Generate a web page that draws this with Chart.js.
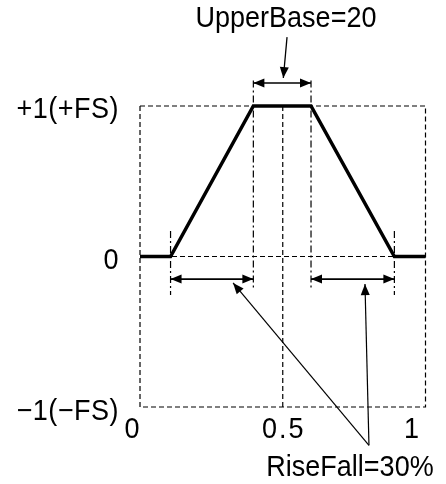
<!DOCTYPE html>
<html>
<head>
<meta charset="utf-8">
<script src="https://cdn.jsdelivr.net/npm/chart.js@4"></script>
<style>
    body { margin: 0; background: #fff; }
    canvas { display: block; }
</style>
</head>
<body>
<canvas id="waveChart" width="446" height="484"></canvas>
<script>
// Trapezoid waveform (x = fraction of period, y = full scale)
const waveX = [0, 0.107, 0.397, 0.599, 0.891, 1];
const waveY = [0, 0, 1, 1, 0, 0];

// Dashed frame, zero line and centre line
const frameX = [0, 1, 1, 0, 0];
const frameY = [1, 1, -1, -1, 1];
const zeroX = [0, 1];
const zeroY = [0, 0];
const centerX = [0.5, 0.5];
const centerY = [1, -1];

// Dash-dot guides at the corners of the trapezoid
const guideX = [0.107, 0.397, 0.599, 0.891];
const guideTop = [0.17, 1.17, 1.17, 0.17];
const guideBottom = [-0.255, -0.22, -0.22, -0.255];

// Double-headed span arrows
const spanFrom = [0.397, 0.107, 0.599];
const spanTo = [0.599, 0.397, 0.891];
const spanY = [1.153, -0.15, -0.15];

// Callout lines: [start, tip]
const upperCalloutX = [0.515, 0.502];
const upperCalloutY = [1.458, 1.186];
const riseCalloutX = [[0.802, 0.326], [0.802, 0.788]];
const riseCalloutY = [[-1.255, -0.176], [-1.255, -0.183]];

// Tick labels
const yTickValues = [1, 0, -1];
const yTickLabels = ['+1(+FS)', '0', '\u22121(\u2212FS)'];
const xTickValues = [0, 0.5, 1];
const xTickLabels = ['0', '0.5', '1'];

// Callout texts
const upperText = 'UpperBase=20';
const riseText = 'RiseFall=30%';

const pts = (xs, ys) => xs.map((v, i) => ({ x: v, y: ys[i] }));

const datasets = [];
datasets.push({ data: pts(waveX, waveY), borderColor: '#000', borderWidth: 3.5, borderJoinStyle: 'miter' });
datasets.push({ data: pts(frameX, frameY), borderColor: '#000', borderWidth: 1.2, borderDash: [5, 3] });
datasets.push({ data: pts(zeroX, zeroY), borderColor: '#000', borderWidth: 1.2, borderDash: [5, 3] });
datasets.push({ data: pts(centerX, centerY), borderColor: '#000', borderWidth: 1.2, borderDash: [5, 3] });
guideX.forEach((gx, i) => {
    datasets.push({ data: pts([gx, gx], [guideTop[i], guideBottom[i]]), borderColor: '#000', borderWidth: 1.2, borderDash: [7, 3, 2, 3] });
});
spanFrom.forEach((sx, i) => {
    datasets.push({ data: pts([sx, spanTo[i]], [spanY[i], spanY[i]]), borderColor: '#000', borderWidth: 1.6, arrow: 'both' });
});
datasets.push({ data: pts(upperCalloutX, upperCalloutY), borderColor: '#000', borderWidth: 1.3, arrow: 'end' });
riseCalloutX.forEach((cx, i) => {
    datasets.push({ data: pts(cx, riseCalloutY[i]), borderColor: '#000', borderWidth: 1.2, arrow: 'end' });
});

function drawHead(ctx, from, to) {
    const ang = Math.atan2(to.y - from.y, to.x - from.x);
    const len = 11, half = 4.5;
    ctx.beginPath();
    ctx.moveTo(to.x, to.y);
    ctx.lineTo(to.x - len * Math.cos(ang) + half * Math.sin(ang), to.y - len * Math.sin(ang) - half * Math.cos(ang));
    ctx.lineTo(to.x - len * Math.cos(ang) - half * Math.sin(ang), to.y - len * Math.sin(ang) + half * Math.cos(ang));
    ctx.closePath();
    ctx.fill();
}

// text is a little taller than Liberation Sans in the original
function drawText(ctx, text, px, py, spacing) {
    ctx.save();
    ctx.letterSpacing = (spacing || 0) + 'px';
    ctx.translate(px, py);
    ctx.scale(1, 1.08);
    ctx.fillText(text, 0, 0);
    ctx.restore();
}

const labelPlugin = {
    id: 'labels',
    afterDatasetsDraw(chart) {
        const { ctx, scales: { x, y } } = chart;
        ctx.save();
        ctx.fillStyle = '#000';

        // arrowheads
        chart.data.datasets.forEach((ds, i) => {
            if (!ds.arrow) return;
            const pix = chart.getDatasetMeta(i).data.map(p => ({ x: p.x, y: p.y }));
            drawHead(ctx, pix[0], pix[1]);
            if (ds.arrow === 'both') drawHead(ctx, pix[1], pix[0]);
        });

        ctx.font = '27px "Liberation Sans", Arial, sans-serif';
        ctx.textBaseline = 'alphabetic';

        ctx.textAlign = 'right';
        yTickValues.forEach((v, i) => {
            drawText(ctx, yTickLabels[i], x.getPixelForValue(0) - 21, y.getPixelForValue(v) + 12.5, 0.5);
        });

        const xNudge = [-8, 1, -14];
        ctx.textAlign = 'center';
        xTickValues.forEach((v, i) => {
            drawText(ctx, xTickLabels[i], x.getPixelForValue(v) + xNudge[i], y.getPixelForValue(-1) + 31, i === 1 ? 2 : 0);
        });

        drawText(ctx, upperText, 286, 27);
        drawText(ctx, riseText, 350, 476);
        ctx.restore();
    }
};

new Chart(document.getElementById('waveChart'), {
    type: 'scatter',
    data: { datasets: datasets },
    options: {
        responsive: false,
        animation: false,
        showLine: true,
        layout: { padding: 0 },
        elements: { point: { radius: 0, hoverRadius: 0 }, line: { tension: 0 } },
        plugins: { legend: { display: false }, tooltip: { enabled: false } },
        scales: {
            x: { type: 'linear', min: -0.4904, max: 1.0718, display: false },
            y: { type: 'linear', min: -1.5116, max: 1.7043, display: false }
        }
    },
    plugins: [labelPlugin]
});
</script>
</body>
</html>
